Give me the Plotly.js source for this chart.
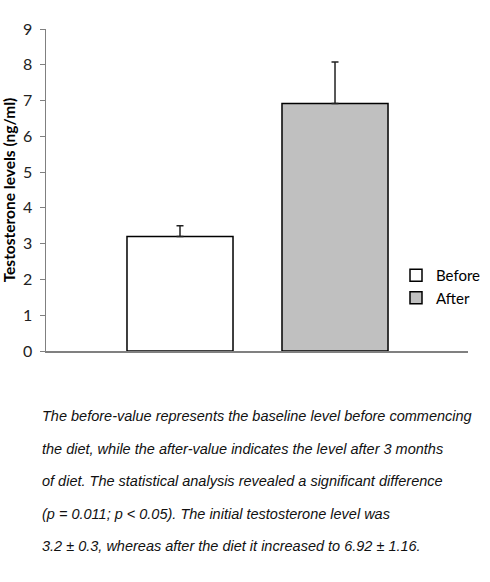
<!DOCTYPE html>
<html>
<head>
<meta charset="utf-8">
<script src="https://cdn.plot.ly/plotly-3.0.1.min.js"></script>
<style>html,body{margin:0;padding:0;background:#fff;}#chart{width:490px;height:582px;}</style>
</head>
<body>
<div id="chart"></div>
<script>
var categories = ["Before", "After"];
var meanValues = [3.2, 6.92];
var sdValues = [0.3, 1.16];
var fillColors = ["#ffffff", "#c0c0c0"];
var yTicks = [0, 1, 2, 3, 4, 5, 6, 7, 8, 9];
var captionLines = [
  "The before-value represents the baseline level before commencing",
  "the diet, while the after-value indicates the level after 3 months",
  "of diet. The statistical analysis revealed a significant difference",
  "(p = 0.011; p < 0.05). The initial testosterone level was",
  "3.2 ± 0.3, whereas after the diet it increased to 6.92 ± 1.16."
];

var traces = categories.map(function (c, i) {
  return {
    type: "bar",
    name: c,
    x: [c],
    y: [meanValues[i]],
    width: 0.684,
    marker: { color: fillColors[i], line: { color: "#000000", width: 1.5 } },
    error_y: { type: "data", array: [sdValues[i]], symmetric: false, arrayminus: [0],
               color: "#222222", thickness: 1.5, width: 3.5 },
    hoverinfo: "skip"
  };
});

var W = 490, H = 582, L = 46, R = 22, T = 29, B = 231;
var pw = W - L - R, ph = H - T - B;
var annotations = captionLines.map(function (line, i) {
  return {
    xref: "paper", yref: "paper",
    x: (40 - L) / pw, y: (H - B - (416 + i * 32.5)) / ph,
    xanchor: "left", yanchor: "middle",
    text: line, showarrow: false,
    font: { family: "Liberation Sans, Arial, sans-serif", size: 14.5, style: "italic", color: "#111111" }
  };
});

var layout = {
  width: W, height: H,
  margin: { l: L, r: R, t: T, b: B, pad: 0, autoexpand: false },
  paper_bgcolor: "#ffffff", plot_bgcolor: "#ffffff",
  barmode: "overlay",
  showlegend: true,
  legend: {
    x: (396 - L) / pw, y: (H - B - 259) / ph, xanchor: "left", yanchor: "top",
    font: { family: "Lato, Open Sans, sans-serif", size: 15, color: "#000000" },
    itemwidth: 30, tracegroupgap: 0, bgcolor: "rgba(0,0,0,0)"
  },
  xaxis: {
    type: "category", categoryorder: "array", categoryarray: categories,
    range: [-0.8645, 1.858], showticklabels: false, ticks: "",
    showline: true, linecolor: "#808080", linewidth: 1.5,
    showgrid: false, zeroline: false, fixedrange: true
  },
  yaxis: {
    range: [0, 9], tickvals: yTicks, ticks: "outside", ticklen: 5, tickcolor: "#808080",
    showline: true, linecolor: "#808080", linewidth: 1.5,
    showgrid: false, zeroline: false, ticklabelstandoff: 4,
    tickfont: { family: "Lato, Open Sans, sans-serif", size: 16, color: "#222222" },
    title: { text: "<b>Testosterone levels (ng/ml)</b>", standoff: 4,
             font: { family: "Lato, Open Sans, sans-serif", size: 15.5, color: "#000000" } }
  },
  annotations: annotations
};

Plotly.newPlot("chart", traces, layout, { displayModeBar: false, staticPlot: true });
</script>
</body>
</html>
